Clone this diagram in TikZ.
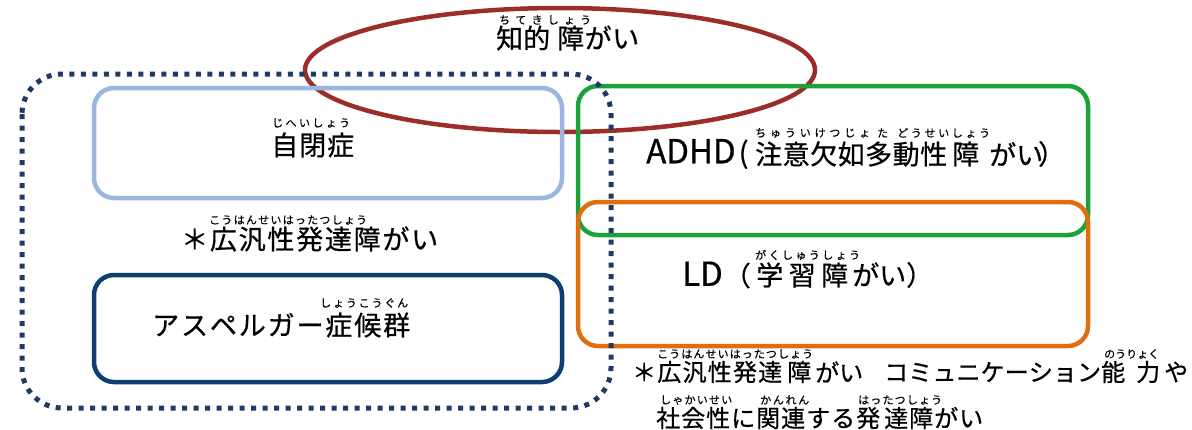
\documentclass[tikz,border=0pt]{standalone}
\usepackage{fontspec}
\setmainfont{Noto Sans CJK JP}
\newfontfamily\jp[FakeBold=0.6]{Noto Sans CJK JP}
\newfontfamily\jpr[FakeBold=0.3]{Noto Sans CJK JP}
\definecolor{redE}{HTML}{9B2D2A}
\definecolor{navyD}{HTML}{1F3A64}
\definecolor{lblue}{HTML}{9BB7E0}
\definecolor{dblue}{HTML}{0D3F73}
\definecolor{grn}{HTML}{1AA33A}
\definecolor{orng}{HTML}{E06E0E}
% spread characters evenly over a given width
\newcommand\rb[2]{\hbox to #1{\rbfirst#2\relax}}
\def\rbfirst#1{#1\rbrest}
\def\rbrest#1{\ifx\relax#1\else\hfill#1\expandafter\rbrest\fi}
\newcommand\latinsz{\fontsize{33}{33}\selectfont}
\newcommand\mainsz{\fontsize{27}{27}\selectfont}
\tikzset{
  box/.style={line width=4.5pt, rounded corners=20pt},
  main/.style={inner sep=0pt, anchor=west, text=black, font=\jp\mainsz},
  mainS/.style={inner sep=0pt, anchor=west, text=black, font=\jp\fontsize{24}{24}\selectfont},
  ruby/.style={inner sep=0pt, anchor=west, text=black, font=\jpr\fontsize{11}{11}\selectfont},
}
\begin{document}
\begin{tikzpicture}[x=1pt,y=-1pt]
\useasboundingbox (0,0) rectangle (1192,429);
% red ellipse
\draw[redE, line width=4.5pt] (560,70) ellipse [x radius=255, y radius=62];
% boxes
\draw[box, lblue] (94,88) rectangle (562,198);
\draw[box, dblue] (94,275) rectangle (562,382);
\draw[box, grn] (578,86) rectangle (1088,235);
\draw[box, orng] (578,202) rectangle (1088,346);
% dotted group
\draw[navyD, line width=5pt, dash pattern=on 5pt off 6.5pt, rounded corners=40pt] (22,74) rectangle (611,408);

% 知的障がい
\node[main] (chiteki1) at (496,38) {\rb{54pt}{知的}};
\node[main] (chiteki2) at (557,38) {\rb{82pt}{障がい}};
\node[ruby] (rchiteki) at (499,20) {\rb{92pt}{ちてきしょう}};

% 自閉症
\node[main] (jihei) at (271,145) {\rb{83pt}{自閉症}};
\node[ruby] (rjihei) at (272,123) {\rb{78pt}{じへいしょう}};

% ADHD
\node[main] (adhd) at (646,154) {{\latinsz ADHD}\kern3pt{\fontsize{29}{29}\selectfont(}};
\node[main] (adhd2) at (755,154) {\rb{192pt}{注意欠如多動性}};
\node[main] (adhd3) at (952,154) {障};
\node[main] (adhd4) at (989,154) {\rb{42pt}{がい}};
\node[main] (adhdp2) at (1038,154) {）};
\node[ruby] (radhd1) at (755,133) {\rb{115pt}{ちゅういけつじょ}};
\node[ruby] (radhd2) at (877,133) {た};
\node[ruby] (radhd3) at (897,133) {\rb{93pt}{どうせいしょう}};

% 広汎性発達障がい (left)
\node[main] (kohan) at (181,239) {\rb{257pt}{＊広汎性発達障がい}};
\node[ruby] (rkohan) at (209,220) {\rb{158pt}{こうはんせいはったつしょう}};

% LD
\node[main] (ld) at (682,275) {{\latinsz LD}\kern1pt（};
\node[main] (ld2) at (756,275) {\rb{92pt}{学習障}};
\node[main] (ld3) at (852,275) {\rb{77pt}{がい）}};
\node[ruby] (rld) at (755,255) {\rb{105pt}{がくしゅうしょう}};

% アスペルガー症候群
\node[main] (asp) at (152,325) {\rb{258pt}{アスペルガー症候群}};
\node[ruby] (rasp) at (320,303) {\rb{88pt}{しょうこうぐん}};

% bottom note line 1
\node[mainS] (n1a) at (632,372) {\rb{150pt}{＊広汎性発達}};
\node[mainS] (n1b) at (787,372) {障};
\node[mainS] (n1c) at (815,372) {\rb{46pt}{がい}};
\node[mainS] (n1d) at (884,372) {\rb{241pt}{コミュニケーション能}};
\node[mainS] (n1e) at (1136,372) {\rb{52pt}{力や}};
\node[ruby] (rn1a) at (657,354) {\rb{156pt}{こうはんせいはったつしょう}};
\node[ruby] (rn1b) at (1104,354) {\rb{50pt}{のうりょく}};

% bottom note line 2
\node[mainS] (n2a) at (656,418) {\rb{224pt}{社会性に関連する発}};
\node[mainS] (n2b) at (884,418) {\rb{99pt}{達障がい}};
\node[ruby] (rn2a) at (660,400) {\rb{72pt}{しゃかいせい}};
\node[ruby] (rn2b) at (760,400) {\rb{49pt}{かんれん}};
\node[ruby] (rn2c) at (858,400) {\rb{84pt}{はったつしょう}};
\end{tikzpicture}
\end{document}
